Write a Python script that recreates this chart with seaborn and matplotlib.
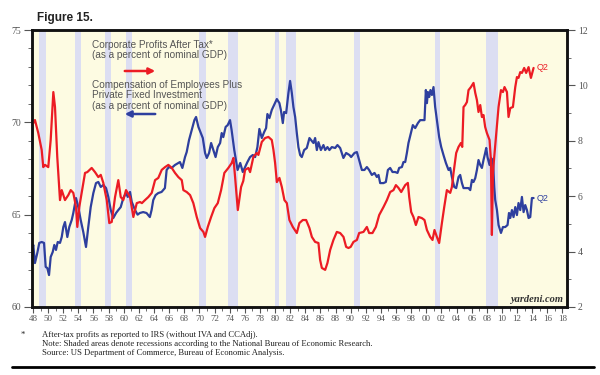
import numpy as np
import pandas as pd
import matplotlib
matplotlib.use("Agg")
import matplotlib.pyplot as plt
import seaborn as sns

# Corporate profits after tax (% of nominal GDP), right axis
profit_year = [1947.90, 1948.26, 1948.70, 1949.15, 1949.36, 1949.59, 1950.02, 1950.34, 1950.69, 1950.91,
               1951.21, 1951.57, 1951.80, 1952.23, 1952.67, 1952.99, 1953.33, 1953.69, 1953.86, 1954.12,
               1954.44, 1954.88, 1955.18, 1955.76, 1956.20, 1956.64, 1956.96, 1957.30, 1957.75, 1958.09,
               1958.41, 1958.85, 1959.28, 1959.60, 1959.94, 1960.30, 1960.83, 1961.27, 1961.72, 1962.15,
               1962.40, 1962.81, 1963.25, 1963.70, 1964.14, 1964.57, 1965.02, 1965.46, 1965.90, 1966.35,
               1966.78, 1967.22, 1967.67, 1967.88, 1968.33, 1968.77, 1969.20, 1969.65, 1970.09, 1970.53,
               1970.75, 1971.11, 1971.55, 1971.98, 1972.43, 1972.87, 1973.30, 1973.83, 1974.28, 1974.50,
               1974.72, 1975.08, 1975.51, 1975.80, 1976.04, 1976.48, 1976.70, 1977.14, 1977.59, 1977.80,
               1978.25, 1978.69, 1979.12, 1979.57, 1979.79, 1980.01, 1980.24, 1980.58, 1980.90, 1981.24,
               1981.56, 1981.90, 1982.35, 1982.88, 1983.22, 1983.67, 1984.11, 1984.55, 1984.87, 1985.30,
               1985.74, 1985.96, 1986.19, 1986.63, 1986.93, 1987.29, 1987.72, 1988.17, 1988.61, 1989.05,
               1989.40, 1989.71, 1990.00, 1990.37, 1990.82, 1991.12, 1991.69, 1992.14, 1992.44, 1992.88,
               1993.33, 1993.77, 1994.34, 1994.79, 1995.22, 1995.66, 1995.98, 1996.32, 1996.68, 1997.21,
               1997.56, 1997.74, 1998.00, 1998.30, 1998.62, 1998.97, 1999.41, 1999.76, 2000.08, 2000.51,
               2000.82, 2001.08, 2001.40, 2001.70, 2002.06, 2002.37, 2002.72, 2003.16, 2003.38, 2003.60,
               2003.95, 2004.26, 2004.57, 2004.75, 2004.92, 2005.14, 2005.37, 2005.58, 2005.90, 2006.24,
               2006.47, 2006.69, 2006.90, 2007.13, 2007.35, 2007.56, 2007.78, 2008.01, 2008.36, 2008.54,
               2008.67, 2008.81, 2008.98, 2009.25, 2009.55, 2009.87, 2010.13, 2010.34, 2010.66, 2010.87,
               2011.10, 2011.45, 2011.76, 2011.98, 2012.19, 2012.42, 2012.64, 2012.94, 2013.20, 2013.52,
               2013.83, 2014.18]
profit_pct = [8.57, 8.75, 8.28, 7.67, 7.05, 7.13, 7.05, 8.03, 9.76, 9.22,
              7.42, 5.86, 6.22, 5.86, 6.04, 6.22, 6.12, 5.61, 4.89, 5.61,
              6.12, 6.84, 6.87, 7.02, 6.87, 6.69, 6.77, 6.48, 5.86, 5.03,
              5.07, 5.97, 6.58, 5.97, 5.86, 6.22, 5.97, 5.25, 5.75, 5.79,
              5.75, 5.86, 5.97, 6.12, 6.58, 6.66, 6.95, 7.05, 7.13, 7.02,
              6.84, 6.69, 6.58, 6.22, 6.15, 6.04, 5.75, 5.25, 4.85, 4.71,
              4.53, 4.89, 5.25, 5.57, 5.75, 6.22, 6.84, 7.02, 7.20, 7.38,
              6.69, 5.50, 6.33, 6.55, 6.95, 7.02, 6.87, 7.42, 7.56, 7.49,
              7.96, 8.10, 8.14, 8.03, 7.67, 7.20, 6.51, 6.66, 6.33, 5.86,
              5.75, 5.14, 4.89, 4.67, 5.03, 5.14, 5.14, 4.85, 4.53, 4.35,
              4.31, 3.70, 3.41, 3.34, 3.59, 4.06, 4.42, 4.71, 4.67, 4.53,
              4.17, 4.13, 4.17, 4.35, 4.42, 4.67, 4.71, 4.89, 4.67, 4.67,
              4.89, 5.32, 5.61, 5.86, 6.15, 6.22, 6.40, 6.30, 6.15, 6.40,
              6.48, 5.97, 5.43, 5.25, 4.96, 5.25, 5.21, 5.14, 4.78, 4.53,
              4.42, 4.78, 4.53, 4.31, 5.03, 5.61, 6.22, 6.12, 6.33, 6.84,
              7.56, 7.78, 7.92, 7.78, 9.22, 9.29, 9.40, 9.83, 9.94, 10.09,
              9.73, 9.47, 9.04, 9.29, 8.86, 8.93, 8.50, 8.28, 8.03, 7.31,
              4.60, 6.84, 7.42, 8.28, 9.22, 9.83, 9.76, 9.94, 9.76, 8.86,
              9.18, 9.22, 9.94, 10.30, 10.27, 10.48, 10.45, 10.63, 10.45, 10.66,
              10.27, 10.63]

# Compensation of employees plus private fixed investment (% of nominal GDP), left axis
comp_year = [1947.90, 1948.04, 1948.26, 1948.57, 1948.83, 1949.15, 1949.46, 1949.68, 1949.89, 1950.12,
             1950.34, 1950.61, 1950.82, 1951.04, 1951.27, 1951.57, 1951.80, 1952.01, 1952.23, 1952.54,
             1952.80, 1953.12, 1953.33, 1953.69, 1953.99, 1954.31, 1954.65, 1955.01, 1955.31, 1955.63,
             1955.98, 1956.33, 1956.64, 1956.96, 1957.30, 1957.66, 1957.96, 1958.28, 1958.62, 1958.98,
             1959.28, 1959.60, 1959.94, 1960.30, 1960.53, 1960.83, 1961.06, 1961.49, 1961.83, 1962.12,
             1962.57, 1963.01, 1963.45, 1963.68, 1963.90, 1964.21, 1964.56, 1965.00, 1965.44, 1965.67,
             1965.97, 1966.33, 1966.77, 1967.21, 1967.43, 1967.75, 1968.10, 1968.32, 1968.63, 1968.98,
             1969.34, 1969.56, 1969.87, 1970.19, 1970.45, 1970.75, 1970.98, 1971.28, 1971.55, 1971.85,
             1972.14, 1972.43, 1972.74, 1972.95, 1973.16, 1973.47, 1973.74, 1974.05, 1974.26, 1974.61,
             1975.05, 1975.40, 1975.74, 1976.04, 1976.35, 1976.70, 1977.06, 1977.37, 1977.67, 1977.93,
             1978.25, 1978.56, 1978.82, 1978.99, 1979.26, 1979.57, 1979.88, 1980.24, 1980.58, 1980.77,
             1981.03, 1981.20, 1981.47, 1981.77, 1981.99, 1982.22, 1982.43, 1982.66, 1982.88, 1983.09,
             1983.32, 1983.54, 1983.85, 1984.20, 1984.55, 1984.77, 1985.08, 1985.30, 1985.53, 1985.74,
             1986.06, 1986.40, 1986.63, 1986.93, 1987.19, 1987.51, 1987.95, 1988.25, 1988.61, 1989.04,
             1989.40, 1989.84, 1990.06, 1990.50, 1990.82, 1991.12, 1991.48, 1991.82, 1992.14, 1992.44,
             1992.80, 1993.15, 1993.46, 1993.68, 1993.90, 1994.34, 1994.65, 1994.92, 1995.22, 1995.53,
             1995.88, 1996.19, 1996.41, 1996.77, 1996.98, 1997.21, 1997.43, 1997.64, 1997.96, 1998.22,
             1998.53, 1998.89, 1999.19, 1999.50, 1999.76, 1999.94, 2000.08, 2000.21, 2000.38, 2000.55,
             2000.74, 2000.95, 2001.17, 2001.40, 2001.70, 2001.97, 2002.27, 2002.59, 2002.94, 2003.16,
             2003.38, 2003.69, 2003.95, 2004.26, 2004.48, 2004.71, 2004.92, 2005.28, 2005.58, 2005.81,
             2006.03, 2006.24, 2006.47, 2006.69, 2006.90, 2007.13, 2007.35, 2007.56, 2007.78, 2007.92,
             2008.09, 2008.36, 2008.54, 2008.81, 2008.98, 2009.11, 2009.34, 2009.55, 2009.87, 2010.13,
             2010.43, 2010.74, 2010.93, 2011.10, 2011.32, 2011.53, 2011.76, 2011.98, 2012.19, 2012.42,
             2012.64, 2012.86, 2013.08, 2013.30, 2013.52, 2013.74, 2013.96, 2014.18]
comp_pct = [63.10, 63.36, 62.38, 62.92, 63.47, 63.52, 63.47, 62.17, 62.11, 61.73,
            62.71, 62.98, 63.36, 63.09, 63.52, 63.47, 63.79, 64.33, 64.60, 63.79,
            64.33, 64.71, 65.09, 65.90, 65.41, 64.71, 64.06, 63.25, 64.33, 65.41,
            66.17, 66.71, 66.77, 66.50, 66.61, 66.44, 65.96, 65.25, 64.82, 65.09,
            65.25, 65.41, 65.90, 66.17, 65.96, 66.23, 65.69, 65.25, 65.00, 65.09,
            65.14, 65.09, 64.87, 65.25, 65.79, 66.06, 66.17, 66.23, 66.44, 67.42,
            67.58, 67.53, 67.69, 67.80, 67.85, 67.53, 68.12, 68.39, 69.04, 69.58,
            70.12, 70.29, 69.75, 69.42, 69.15, 68.34, 68.07, 68.34, 68.88, 68.50,
            68.12, 68.66, 68.88, 69.42, 69.20, 69.75, 69.85, 70.12, 69.58, 68.50,
            67.42, 67.80, 67.31, 67.58, 67.85, 68.12, 68.23, 68.12, 68.66, 69.64,
            69.15, 69.47, 69.69, 70.45, 70.23, 70.67, 70.94, 71.26, 71.04, 70.67,
            69.96, 70.56, 70.50, 71.59, 72.24, 71.59, 70.83, 70.29, 69.42, 68.66,
            68.23, 68.12, 68.50, 68.61, 69.15, 69.04, 68.88, 69.15, 68.50, 68.93,
            68.50, 68.77, 68.50, 68.66, 68.50, 68.66, 68.61, 68.77, 68.61, 68.07,
            68.34, 68.23, 68.12, 68.34, 68.39, 67.96, 67.42, 67.42, 67.58, 67.42,
            67.15, 67.26, 67.04, 67.15, 66.71, 66.71, 66.77, 67.42, 67.53, 67.31,
            67.31, 67.26, 67.53, 67.58, 67.85, 67.85, 68.34, 68.88, 69.42, 69.85,
            69.69, 69.96, 70.12, 70.12, 70.12, 71.75, 71.04, 71.64, 71.37, 71.75,
            71.48, 71.91, 70.83, 70.12, 69.20, 68.66, 68.23, 67.80, 67.42, 67.53,
            67.04, 66.50, 66.44, 67.04, 67.15, 66.71, 66.44, 66.44, 66.44, 66.33,
            66.88, 66.77, 66.98, 67.42, 67.96, 67.69, 67.53, 67.96, 68.34, 68.61,
            68.12, 67.69, 68.07, 67.96, 66.50, 65.79, 65.25, 64.44, 64.01, 64.33,
            64.33, 64.44, 65.09, 64.82, 65.25, 64.87, 65.41, 64.98, 65.63, 65.25,
            65.96, 65.14, 65.52, 65.25, 64.82, 64.87, 65.90, 65.90]

# NBER recessions (start, end)
recessions = [(1948.83, 1949.75), (1953.50, 1954.33), (1957.58, 1958.25), (1960.25, 1961.08),
              (1969.92, 1970.83), (1973.83, 1975.17), (1980.00, 1980.50), (1981.50, 1982.83),
              (1990.50, 1991.17), (2001.17, 2001.83), (2007.92, 2009.42)]

year_ticks = list(range(1948, 2019, 2))
year_labels = [f"{y % 100:02d}" for y in year_ticks]

profits = pd.DataFrame({"year": profit_year, "pct": profit_pct})
comp = pd.DataFrame({"year": comp_year, "pct": comp_pct})

sns.set_style("ticks")
plt.rcParams["font.family"] = ["Liberation Sans", "DejaVu Sans"]

RED = "#ec1c24"
BLUE = "#2e3f9e"
GRAY = "#555555"
SERIF = ["Liberation Serif", "DejaVu Serif"]

fig = plt.figure(figsize=(6, 3.75), dpi=100)
ax = fig.add_axes([32 / 600, 1 - 307 / 375, 535 / 600, 277 / 375])
ax.set_facecolor("#fdfbe2")
for start, end in recessions:
    ax.axvspan(start, end, color="#dcdef2", lw=0, zorder=0)

sns.lineplot(data=comp, x="year", y="pct", ax=ax, color=BLUE, lw=1.6,
             estimator=None, sort=False)
ax.set_xlim(1947.87, 2018.6)
ax.set_ylim(60, 75)
ax.set_yticks([60, 65, 70, 75])
ax.set_yticks(np.arange(60, 76, 1), minor=True)
ax.set_xticks(year_ticks)
ax.set_xticklabels(year_labels)
ax.set_xticks(np.arange(1948, 2019, 1), minor=True)
ax.set_xlabel("")
ax.set_ylabel("")

ax2 = ax.twinx()
sns.lineplot(data=profits, x="year", y="pct", ax=ax2, color=RED, lw=1.6,
             estimator=None, sort=False)
ax2.set_ylim(2, 12)
ax2.set_yticks(np.arange(2, 13, 2))
ax2.set_yticks(np.arange(2, 13, 1), minor=True)
ax2.set_ylabel("")

for a in (ax, ax2):
    for s in a.spines.values():
        s.set_linewidth(1.8)
        s.set_color("#111111")
    a.tick_params(which="major", length=6, width=0.8, color=GRAY, labelcolor=GRAY,
                  labelsize=7, pad=2)
    a.tick_params(which="minor", length=3, width=0.6, color=GRAY)
ax.tick_params(axis="x", which="major", length=4, labelsize=6.5, pad=2)
ax.tick_params(axis="x", which="minor", length=3)
for lab in ax.get_xticklabels() + ax.get_yticklabels() + ax2.get_yticklabels():
    lab.set_family(SERIF)

# end labels
ax2.text(profit_year[-1] + 0.45, profit_pct[-1], "Q2", color=RED, fontsize=6.5,
         va="center", ha="left")
ax.text(comp_year[-1] + 0.45, comp_pct[-1], "Q2", color=BLUE, fontsize=6.5,
        va="center", ha="left")

ax.text(0.993, 0.012, "yardeni.com", transform=ax.transAxes, ha="right", va="bottom",
        fontsize=7.5, fontweight="bold", fontstyle="italic", family=SERIF, color="#333333")

# legend texts and arrows
fig.text(37 / 600, 1 - 18 / 375, "Figure 15.", fontsize=8.5, fontweight="bold",
         va="center", color="#222222")
leg = dict(fontsize=7.2, color=GRAY, va="center", ha="left")
fig.text(92 / 600, 1 - 45 / 375, "Corporate Profits After Tax*", **leg)
fig.text(92 / 600, 1 - 55 / 375, "(as a percent of nominal GDP)", **leg)
fig.text(92 / 600, 1 - 85 / 375, "Compensation of Employees Plus", **leg)
fig.text(92 / 600, 1 - 95.5 / 375, "Private Fixed Investment", **leg)
fig.text(92 / 600, 1 - 106 / 375, "(as a percent of nominal GDP)", **leg)
ax.annotate("", xy=(158 / 600, 1 - 71 / 375), xytext=(122 / 600, 1 - 71 / 375),
            xycoords="figure fraction", textcoords="figure fraction",
            arrowprops=dict(arrowstyle="-|>", color=RED, lw=1.8, mutation_scale=9))
ax.annotate("", xy=(122 / 600, 1 - 114 / 375), xytext=(158 / 600, 1 - 114 / 375),
            xycoords="figure fraction", textcoords="figure fraction",
            arrowprops=dict(arrowstyle="-|>", color=BLUE, lw=1.8, mutation_scale=9))

# footnotes
foot = dict(fontsize=6.2, family=SERIF, color="#222222", va="center", ha="left")
fig.text(21 / 600, 1 - 335 / 375, "*", **foot)
fig.text(42 / 600, 1 - 335 / 375, "After-tax profits as reported to IRS (without IVA and CCAdj).", **foot)
fig.text(42 / 600, 1 - 344 / 375, "Note: Shaded areas denote recessions according to the National Bureau of Economic Research.", **foot)
fig.text(42 / 600, 1 - 353 / 375, "Source: US Department of Commerce, Bureau of Economic Analysis.", **foot)
fig.add_artist(plt.Line2D([12 / 600, 594 / 600], [1 - 367 / 375, 1 - 367 / 375],
                          transform=fig.transFigure, color="black", lw=2))

fig.savefig("out.png", dpi=100, facecolor="white")
